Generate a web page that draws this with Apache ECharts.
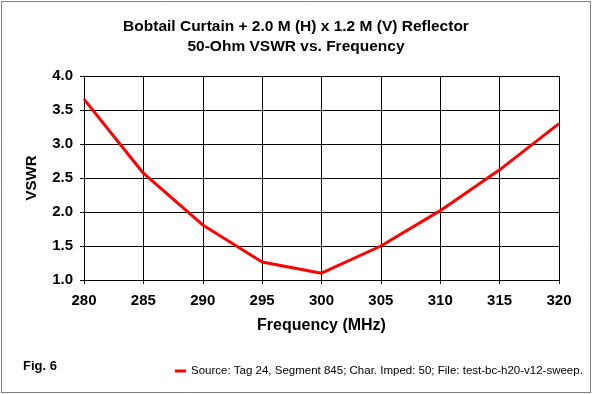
<!DOCTYPE html>
<html><head><meta charset="utf-8">
<script src="https://cdn.jsdelivr.net/npm/echarts@6/dist/echarts.min.js"></script>
<style>html,body{margin:0;padding:0;background:#fff}#c{width:592px;height:394px}</style>
</head><body><div id="c"></div>
<script>
const freq = [280, 285, 290, 295, 300, 305, 310, 315, 320];
const vswr = [3.66, 2.57, 1.81, 1.265, 1.10, 1.50, 2.02, 2.62, 3.30];
const xTicks = [280, 285, 290, 295, 300, 305, 310, 315, 320];
const yTicks = [1.0, 1.5, 2.0, 2.5, 3.0, 3.5, 4.0];
const seriesName = 'Source: Tag 24, Segment 845; Char. Imped: 50; File: test-bc-h20-v12-sweep.nec';
const F = 'Liberation Sans, Arial, sans-serif';

const chart = echarts.init(document.getElementById('c'), null, {renderer: 'canvas'});
chart.setOption({
  animation: false,
  backgroundColor: '#fff',
  title: {
    text: 'Bobtail Curtain + 2.0 M (H) x 1.2 M (V) Reflector\n50-Ohm VSWR vs. Frequency',
    left: 'center', top: 12,
    textStyle: {fontFamily: F, fontSize: 15.5, fontWeight: 'bold', color: '#000', lineHeight: 20}
  },
  grid: {left: 84, right: 33, top: 76, bottom: 114},
  xAxis: {
    type: 'value', min: xTicks[0], max: xTicks[xTicks.length - 1], interval: 5,
    name: 'Frequency (MHz)', nameLocation: 'middle', nameGap: 38,
    nameTextStyle: {fontFamily: F, fontSize: 16, fontWeight: 'bold', color: '#000'},
    axisLine: {lineStyle: {color: '#000', width: 1}},
    axisTick: {show: true, length: 4, inside: false, lineStyle: {color: '#000'}},
    axisLabel: {fontFamily: F, fontSize: 15, fontWeight: 'bold', color: '#000', margin: 13},
    splitLine: {show: true, lineStyle: {color: '#000', width: 1}}
  },
  yAxis: {
    type: 'value', min: yTicks[0], max: yTicks[yTicks.length - 1], interval: 0.5,
    name: 'VSWR', nameLocation: 'middle', nameGap: 45, nameRotate: 90,
    nameTextStyle: {fontFamily: F, fontSize: 15, fontWeight: 'bold', color: '#000'},
    axisLine: {show: true, lineStyle: {color: '#000', width: 1}},
    axisTick: {show: true, length: 4, lineStyle: {color: '#000'}},
    axisLabel: {fontFamily: F, fontSize: 15, fontWeight: 'bold', color: '#000', margin: 11,
      formatter: v => v.toFixed(1)},
    splitLine: {show: true, lineStyle: {color: '#000', width: 1}}
  },
  legend: {
    left: 170, top: 360, itemWidth: 11, itemHeight: 3, itemGap: 6,
    icon: 'rect', padding: 5,
    textStyle: {fontFamily: F, fontSize: 11.5, color: '#000', width: 396, overflow: 'truncate', ellipsis: ''},
    data: [seriesName]
  },
  graphic: [
    {type: 'rect', shape: {x: 1.5, y: 1.5, width: 589, height: 391},
      style: {fill: 'none', stroke: '#000', lineWidth: 1, lineDash: [1, 1]}},
    {type: 'text', left: 23, top: 360,
      style: {text: 'Fig. 6', font: 'bold 13px ' + F, fill: '#000'}}
  ],
  series: [{
    name: seriesName, type: 'line', data: freq.map((f, i) => [f, vswr[i]]),
    showSymbol: false, symbol: 'none', itemStyle: {color: '#ff0000'},
    lineStyle: {color: '#ff0000', width: 3}
  }]
});
</script></body></html>
